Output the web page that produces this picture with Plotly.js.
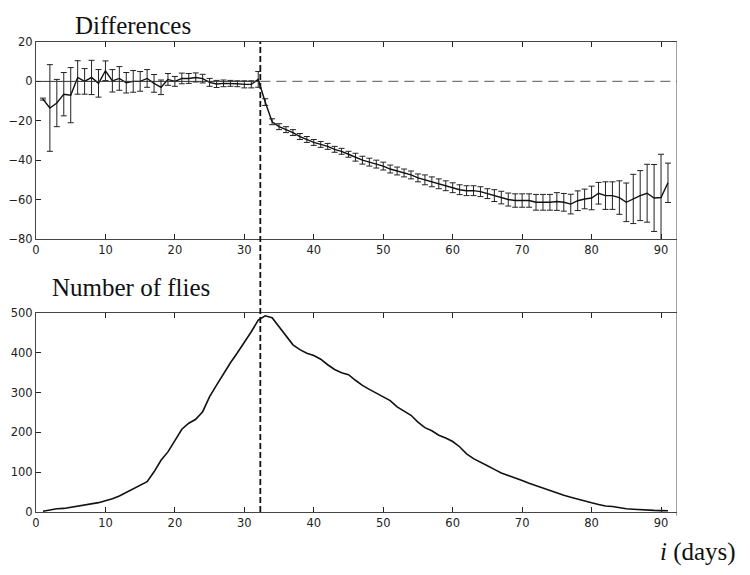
<!DOCTYPE html>
<html><head><meta charset="utf-8">
<script src="https://cdn.plot.ly/plotly-3.0.1.min.js"></script>
<style>body{margin:0;background:#fff}</style>
</head><body><div id="chart" style="width:750px;height:575px"></div>
<script>
const diffDays = Array.from({length: 91}, (_, i) => i + 1);
const diffMean = [-9,-13.5,-11,-6.5,-7,2,0,2,-1,5.4,0.3,1.5,-0.7,0,0,1.5,-1,-3,1,0,
  1.5,1.5,2,1.4,-0.5,-1.3,-1,-1,-1.2,-1.5,-1.5,1,-10.5,-20.5,-23,-24.5,-26,-28,-29.5,-31,
  -32,-33,-34.5,-35.5,-37,-38.5,-40,-41,-42,-43,-44.5,-45.5,-46.5,-47.5,-49,-50,-51,-52,-53,-54,
  -55,-55.5,-55.5,-56,-57,-58,-59,-60,-60.5,-60.5,-60.5,-61.4,-61.4,-61.4,-61,-61.4,-62.3,-60.6,-59.7,-59.2,
  -56.8,-58,-58,-59,-61.4,-59.7,-58,-56.8,-59.2,-59,-51.5];
const diffErr = [0.5,22,12,11,14,8.5,6.5,8.7,7,5,5.7,6,5.2,5.5,5,4.5,4.5,3.7,3,2.5,
  2.7,2.5,2.3,2.2,2,1.8,1.7,1.5,1.5,1.8,1.8,4,1.7,1.5,1.5,1.5,1.5,1.5,1.5,1.5,
  1.5,1.5,1.5,1.5,1.5,2,2,2,2,2,2,2,2,2,2,2.5,2.5,2.5,2.5,2.5,
  2.5,2.5,2.5,2.5,2.5,3,3.2,3.3,3.4,3.4,3.4,4,4,4,4.5,4.5,5,5,5,6,
  5.5,7,7,8.5,9.8,12.5,12.7,14.7,17,22,10];
const flyDays = Array.from({length: 91}, (_, i) => i + 1);
const flies = [2,5,8,9,12,15,18,20,23.5,28.5,33,40,48.5,57,66,76,101,130,151,181,
  208,223,233,252,290,319,348,375,400,425,453,482,493,488,465,440,420,408,399,393,
  384,370,358,350,345,331,318,308,299,290,280,264,254,243,226,212,204,193,186,177,
  164,146,134,124,116,107,98,92,86,79,72,66,59,53,48,42,37,32,28,23,
  19,15,14,11,8,7,5.5,4.5,4,3.5,3];
const xTicks = [0,10,20,30,40,50,60,70,80,90];
const diffTicks = [-80,-60,-40,-20,0,20];
const flyTicks = [0,100,200,300,400,500];
const peakDay = 32.3;
const xMax = 92.3;

const tickFont = {family: 'DejaVu Sans, sans-serif', size: 11.5, color: '#222'};
const traces = [
  {x: diffDays, y: diffMean, type: 'scatter', mode: 'lines', xaxis: 'x', yaxis: 'y',
   line: {color: '#111', width: 1.4},
   error_y: {type: 'data', array: diffErr, visible: true, color: '#222', thickness: 1, width: 3}},
  {x: flyDays, y: flies, type: 'scatter', mode: 'lines', xaxis: 'x2', yaxis: 'y2',
   line: {color: '#111', width: 1.6}}
];
const axBase = {showgrid: false, zeroline: false, showline: true, linecolor: '#444', linewidth: 1,
  ticks: 'inside', ticklen: 5, tickcolor: '#222', tickfont: tickFont};
const serif = {family: 'Liberation Serif, Times New Roman, serif', size: 25, color: '#111'};
const layout = {
  width: 750, height: 575, showlegend: false,
  paper_bgcolor: '#fff', plot_bgcolor: '#fff',
  margin: {l: 36, r: 73, t: 42, b: 63},
  xaxis: Object.assign({}, axBase, {domain: [0, 1], range: [0, xMax], tickvals: xTicks, mirror: 'ticks', anchor: 'y'}),
  yaxis: Object.assign({}, axBase, {domain: [0.581, 1], range: [-80, 20], tickvals: diffTicks, anchor: 'x'}),
  xaxis2: Object.assign({}, axBase, {domain: [0, 1], range: [0, xMax], tickvals: xTicks, mirror: 'ticks', anchor: 'y2'}),
  yaxis2: Object.assign({}, axBase, {domain: [0, 0.4234], range: [0, 500], tickvals: flyTicks, anchor: 'x2'}),
  shapes: [
    {type: 'line', xref: 'x', yref: 'y', x0: 0, x1: peakDay, y0: 0, y1: 0, line: {color: '#333', width: 1}},
    {type: 'line', xref: 'x', yref: 'y', x0: peakDay, x1: xMax, y0: 0, y1: 0, line: {color: '#777', width: 1.2, dash: '10px,6px'}},
    {type: 'line', xref: 'x', yref: 'paper', x0: peakDay, x1: peakDay, y0: 0, y1: 1, line: {color: '#111', width: 1.8, dash: '6px,3px'}},
    {type: 'line', xref: 'x', yref: 'paper', x0: xMax, x1: xMax, y0: -0.008, y1: 1, line: {color: '#444', width: 1}}
  ],
  annotations: [
    {text: 'Differences', xref: 'paper', yref: 'paper', x: 0.017, y: 1.036, xanchor: 'left', yanchor: 'middle', xshift: 26, showarrow: false, font: serif},
    {text: 'Number of flies', xref: 'paper', yref: 'paper', x: 0.022, y: 0.4766, xanchor: 'left', yanchor: 'middle', showarrow: false, font: serif},
    {text: '<i>i</i> (days)', xref: 'paper', yref: 'paper', x: 1.095, y: -0.085, xanchor: 'right', yanchor: 'middle', showarrow: false, font: serif}
  ]
};
Plotly.newPlot('chart', traces, layout, {displayModeBar: false, staticPlot: true});
</script>
</body></html>
